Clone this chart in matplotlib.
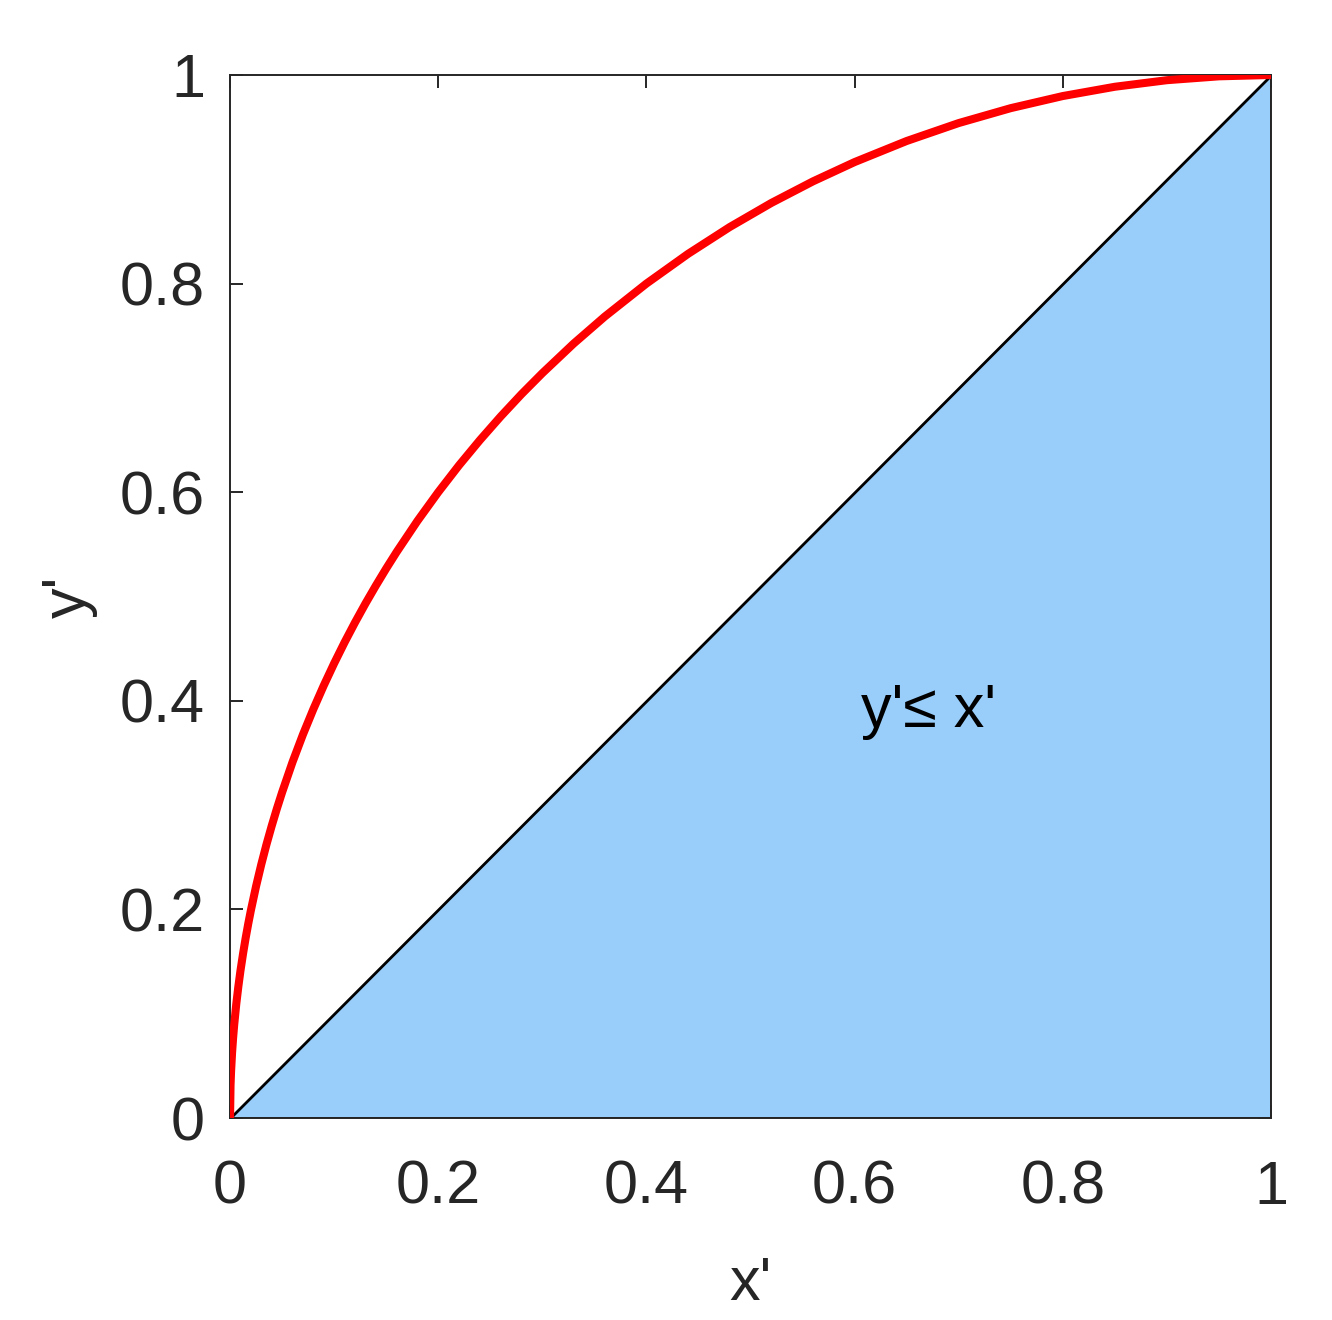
import matplotlib.pyplot as plt

plt.rcParams["font.family"] = ["Liberation Sans", "DejaVu Sans"]

# red curve
curve_x = [0.0, 0.0005, 0.001, 0.002, 0.003, 0.004, 0.006, 0.008, 0.01, 0.0125,
           0.015, 0.0175, 0.02, 0.025, 0.03, 0.035, 0.04, 0.045, 0.05, 0.06,
           0.07, 0.08, 0.09, 0.10, 0.11, 0.12, 0.13, 0.14, 0.15, 0.16, 0.18,
           0.20, 0.22, 0.24, 0.26, 0.28, 0.30, 0.33, 0.36, 0.40, 0.44, 0.48,
           0.52, 0.56, 0.60, 0.65, 0.70, 0.75, 0.80, 0.85, 0.90, 0.95, 1.0]
curve_y = [0.0, 0.0316, 0.0447, 0.0632, 0.0774, 0.0894, 0.1094, 0.1262, 0.1411,
           0.1576, 0.1726, 0.1863, 0.1990, 0.2222, 0.2431, 0.2623, 0.2800,
           0.2966, 0.3122, 0.3412, 0.3676, 0.3919, 0.4146, 0.4359, 0.4560,
           0.4750, 0.4931, 0.5103, 0.5268, 0.5426, 0.5724, 0.6000, 0.6258,
           0.6499, 0.6726, 0.6940, 0.7141, 0.7424, 0.7684, 0.8000, 0.8285,
           0.8542, 0.8773, 0.8980, 0.9165, 0.9367, 0.9539, 0.9682, 0.9798,
           0.9887, 0.9950, 0.9987, 1.0]

# shaded region y' <= x'
region_x = [0, 1, 1]
region_y = [0, 0, 1]

ticks = [0, 0.2, 0.4, 0.6, 0.8, 1]
tick_labels = ["0", "0.2", "0.4", "0.6", "0.8", "1"]

text_color = "#262626"

fig = plt.figure(figsize=(6.66, 6.6), dpi=200)
ax = fig.add_axes([0.1727, 0.1530, 0.7815, 0.7902])

ax.fill(region_x, region_y, facecolor="#99cefa", edgecolor="black", linewidth=1.0, zorder=2)
ax.plot(curve_x, curve_y, color="#ff0000", linewidth=2.9, solid_capstyle="butt",
        solid_joinstyle="round", zorder=3)
ax.text(0.671, 0.39, "y'\u2264 x'", fontsize=22, ha="center", va="center",
        color="black", zorder=4)

ax.set_xlim(0, 1)
ax.set_ylim(0, 1)
ax.set_xticks(ticks)
ax.set_xticklabels(tick_labels)
ax.set_yticks(ticks)
ax.set_yticklabels(tick_labels)
ax.tick_params(direction="in", length=4.7, width=0.7, top=True, right=True,
               labelsize=22, colors=text_color)
ax.tick_params(axis="x", pad=15)
ax.tick_params(axis="y", pad=9)
for s in ax.spines.values():
    s.set_linewidth(0.7)
    s.set_color(text_color)
ax.set_xlabel("x'", fontsize=22, color=text_color, labelpad=14)
ax.set_ylabel("y'", fontsize=22, color=text_color, labelpad=8)

fig.savefig("out.png", dpi=200)
